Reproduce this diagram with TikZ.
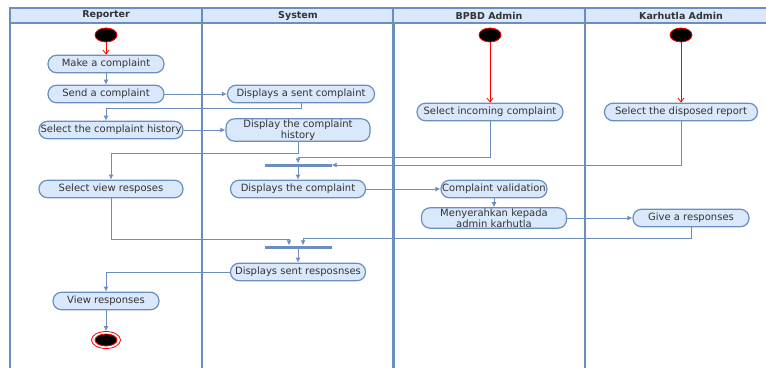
\documentclass[tikz,border=0pt]{standalone}
\usepackage{fontspec}
\usetikzlibrary{shapes.geometric,arrows.meta}
\newfontfamily\dvs{DejaVu Sans}
\definecolor{laneblue}{HTML}{6C8EBF}
\definecolor{paleblue}{HTML}{DAE8FC}
\definecolor{txtgray}{HTML}{333333}
\begin{document}
\begin{tikzpicture}[x=1pt,y=-1pt,
    act/.style={draw=laneblue, fill=paleblue, rounded corners=8.5pt, line width=1.2pt, minimum height=17.5pt, inner sep=1pt, align=center, text=txtgray, font=\dvs\fontsize{10}{9}\selectfont},
    init/.style={ellipse, fill=black, draw=red, line width=0.8pt, minimum width=22pt, minimum height=14pt, inner sep=0pt},
    bar/.style={fill=laneblue, minimum width=67pt, minimum height=3pt, inner sep=0pt},
    flow/.style={draw=laneblue, line width=0.9pt, -{Latex[length=5pt,width=5pt]}},
    redflow/.style={draw=red, line width=0.8pt, -{Straight Barb[length=4pt,width=6pt]}}]
        \useasboundingbox (0,0) rectangle (766,367);
        \clip (0,0) rectangle (766,367);
        % swimlanes
        \foreach \x/\lane/\id in {10/Reporter/rep, 202/System/sys, 393/BPBD Admin/bpbd, 585/Karhutla Admin/kar}{
                \draw[laneblue, line width=1.5pt, fill=paleblue] (\x,8) rectangle ++(192,15);
                \draw[laneblue, line width=1.5pt] (\x,23) rectangle ++(192,360);
                \node[font=\dvs\bfseries\fontsize{9.5}{10}\selectfont, text=txtgray] (head-\id) at (\x+96,15.5) {\lane};
        }
        % Reporter
        \node[init] (start1) at (106,35) {};
        \node[act, minimum width=116pt] (make) at (106,64) {Make a complaint};
        \node[act, minimum width=116pt] (send) at (106,94) {Send a complaint};
        \node[act, minimum width=144pt] (hist) at (111,130) {Select the complaint history};
        \node[act, minimum width=144pt] (selview) at (111,189) {Select view resposes};
        \node[act, minimum width=106pt] (view) at (106,301) {View responses};
        \node[ellipse, draw=red, fill=white, line width=0.8pt, minimum width=29pt, minimum height=17pt, inner sep=0pt] (fin) at (106,340) {};
        \node[init, minimum width=22pt, minimum height=12pt] (finin) at (fin) {};
        % System
        \node[act, minimum width=147pt] (dispsent) at (301,94) {Displays a sent complaint};
        \node[act, minimum width=144pt] (disphist) at (298,130) {Display the complaint\\history};
        \node[bar] (fork1) at (298,165) {};
        \node[act, minimum width=135pt] (dispcomp) at (298,189) {Displays the complaint};
        \node[bar] (fork2) at (298,247) {};
        \node[act, minimum width=135pt] (dispresp) at (298,272) {Displays sent resposnses};
        % BPBD Admin
        \node[init] (start2) at (490,35) {};
        \node[act, minimum width=146pt] (selinc) at (490,112) {Select incoming complaint};
        \node[act, minimum width=106pt] (valid) at (494,189) {Complaint validation};
        \node[act, minimum width=145pt] (serah) at (494,218) {Menyerahkan kepada\\admin karhutla};
        % Karhutla Admin
        \node[init] (start3) at (681,35) {};
        \node[act, minimum width=153pt] (seldisp) at (681,112) {Select the disposed report};
        \node[act, minimum width=116pt] (give) at (691,218) {Give a responses};
        % flows
        \draw[redflow] (start1) -- (make);
        \draw[redflow] (start2) -- (selinc);
        \draw[redflow] (start3) -- (seldisp);
        \draw[flow] (make) -- (send);
        \draw[flow] (send) -- (dispsent);
        \draw[flow] (dispsent.south) -- ++(0,5) -| (make.south |- hist.north);
        \draw[flow] (hist) -- (disphist);
        \draw[flow] (disphist.south) -- ++(0,12) -| (selview.north);
        \draw[flow] (selinc.south) -- ++(0,36) -| (fork1.north);
        \draw[flow] (seldisp.south) |- (fork1.east);
        \draw[flow] (fork1) -- (dispcomp);
        \draw[flow] (dispcomp) -- (valid);
        \draw[flow] (valid) -- (serah);
        \draw[flow] (serah) -- (give);
        \draw[flow] (give.south) -- ++(0,11) -| ([xshift=5pt]fork2.north);
        \draw[flow] (selview.south) -- ++(0,41) -| ([xshift=-9pt]fork2.north);
        \draw[flow] (fork2) -- (dispresp);
        \draw[flow] (dispresp.west) -| (view.north);
        \draw[flow] (view) -- (fin);
\end{tikzpicture}
\end{document}
